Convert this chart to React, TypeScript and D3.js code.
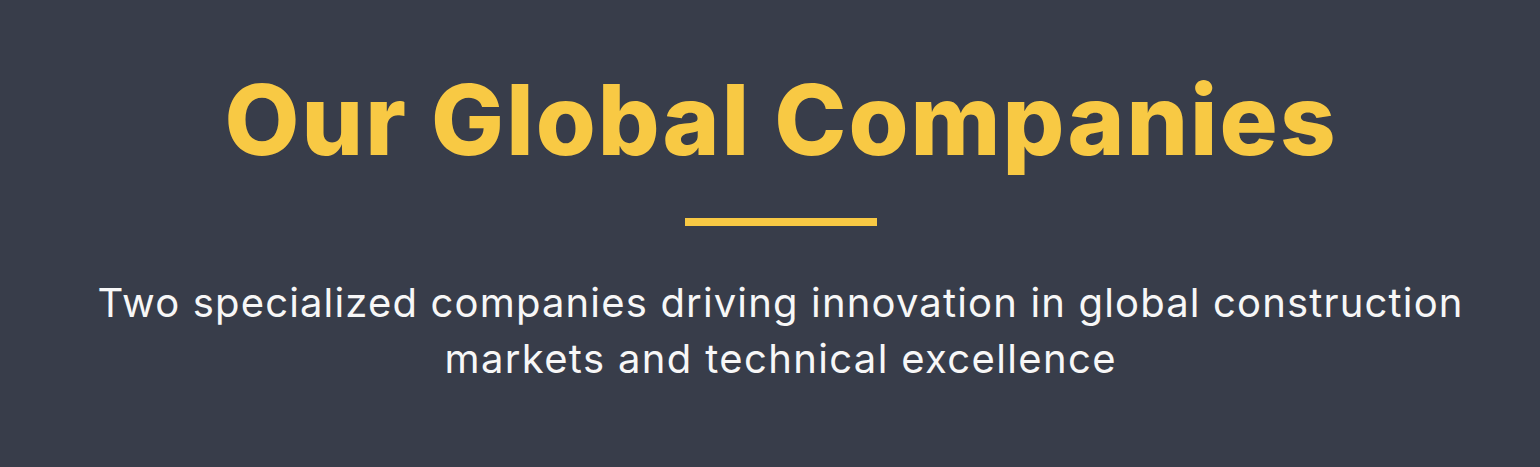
import { useEffect, useRef } from 'react';
import * as d3 from 'd3';

// Heading banner text
const titleText = 'Our Global Companies';
const subtitleLines = [
  'Two specialized companies driving innovation in global construction',
  'markets and technical excellence',
];

const W = 1540;
const H = 467;
const BG = '#383d4a';
const YELLOW = '#f8c944';

export default function App() {
  const svgRef = useRef<SVGSVGElement>(null);

  useEffect(() => {
    if (!svgRef.current) return;
    document.body.style.margin = '0';
    const svg = d3.select(svgRef.current);
    svg.selectAll('*').remove();
    svg.attr('width', W).attr('height', H);

    svg.append('rect').attr('width', W).attr('height', H).attr('fill', BG);

    const cx = 780;

    // Title
    svg.append('text')
      .attr('x', cx)
      .attr('y', 155)
      .attr('text-anchor', 'middle')
      .attr('fill', YELLOW)
      .attr('font-family', 'Inter, "Open Sans", sans-serif')
      .attr('font-weight', 800)
      .attr('font-size', '97px')
      .attr('textLength', 1111)
      .attr('lengthAdjust', 'spacing')
      .text(titleText);

    // Divider
    svg.append('rect')
      .attr('x', cx - 95)
      .attr('y', 218)
      .attr('width', 192)
      .attr('height', 8)
      .attr('fill', YELLOW);

    // Subtitle lines
    const lineY = d3.scaleLinear().domain([0, 1]).range([317, 373]);
    const widths = [1365, 671];
    svg.selectAll('.sub')
      .data(subtitleLines)
      .enter()
      .append('text')
      .attr('x', cx)
      .attr('y', (_, i) => lineY(i))
      .attr('text-anchor', 'middle')
      .attr('fill', '#f7f7f7')
      .attr('font-family', 'Inter, "Open Sans", sans-serif')
      .attr('font-weight', 400)
      .attr('font-size', '40px')
      .attr('textLength', (_, i) => widths[i])
      .attr('lengthAdjust', 'spacing')
      .text(d => d);
  }, []);

  return (
    <div style={{ position: 'absolute', left: 0, top: 0 }}>
      <svg ref={svgRef} style={{ display: 'block' }} />
    </div>
  );
}
